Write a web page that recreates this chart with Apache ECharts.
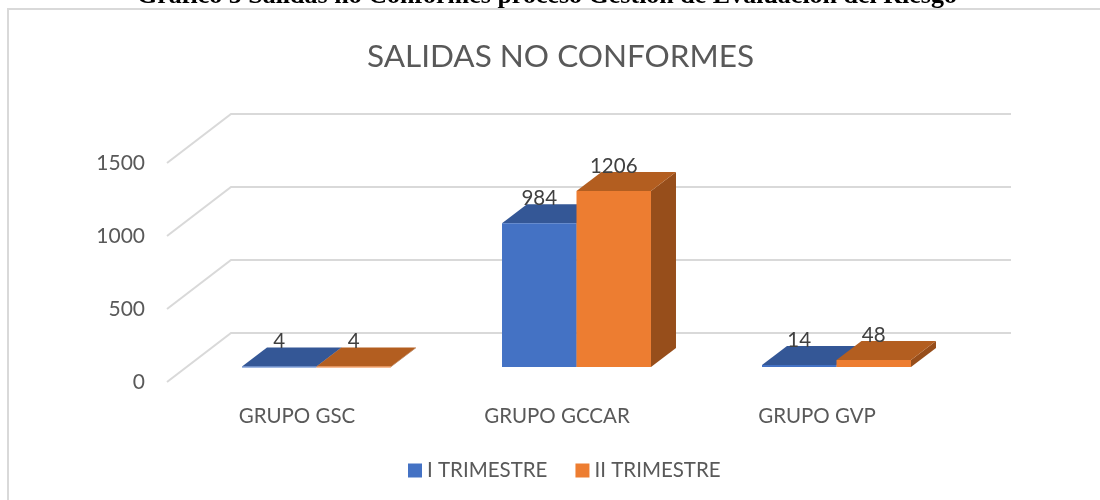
<!DOCTYPE html>
<html><head><meta charset="utf-8">
<style>html,body{margin:0;padding:0;background:#fff}#c{width:1100px;height:500px}</style>
<script src="https://cdn.jsdelivr.net/npm/echarts@6/dist/echarts.min.js"></script>
</head><body><div id="c"></div>
<script>
const categories = ['GRUPO GSC', 'GRUPO GCCAR', 'GRUPO GVP'];
const trimestre1 = [4, 984, 14];
const trimestre2 = [4, 1206, 48];
const seriesNames = ['I TRIMESTRE', 'II TRIMESTRE'];
const yTicks = [0, 500, 1000, 1500];
const headingText = 'Gráfico 5 Salidas no Conformes proceso Gestión de Evaluación del Riesgo';
const chartTitle = 'SALIDAS NO CONFORMES';

const FONT = 'Lato';
const GRID = {left: 167, top: 163, width: 780, height: 219};
const WALL = {dx: 64, dy: -49};
const FLOOR = {dx: 19.5, dy: -15};
const DEPTH = {dx: 25, dy: -19};
const BAR_FRACTION = 0.2865;

function barRenderer(sign, front, top, side) {
  return function (params, api) {
    const v = api.value(1);
    const base = api.coord([api.value(0), 0]);
    const head = api.coord([api.value(0), v]);
    const w = api.size([1, 0])[0] * BAR_FRACTION;
    const x0 = base[0] + FLOOR.dx + (sign < 0 ? -w : 0);
    const x1 = x0 + w;
    const yb = base[1] + FLOOR.dy;
    const yt = head[1] + FLOOR.dy;
    const d = DEPTH;
    return {
      type: 'group',
      children: [
        {type: 'polygon', shape: {points: [[x1, yb], [x1 + d.dx, yb + d.dy], [x1 + d.dx, yt + d.dy], [x1, yt]]}, style: {fill: side}},
        {type: 'polygon', shape: {points: [[x0, yt], [x1, yt], [x1 + d.dx, yt + d.dy], [x0 + d.dx, yt + d.dy]]}, style: {fill: top}},
        {type: 'rect', shape: {x: x0, y: yt, width: w, height: Math.max(yb - yt, 1)}, style: {fill: front}},
        {type: 'text', z2: 50, style: {text: String(v), x: (x0 + x1) / 2, y: yt - 25, align: 'center', verticalAlign: 'middle',
          font: '20.5px ' + FONT, fill: '#404040'}}
      ]
    };
  };
}

function wallRenderer(params, api) {
  const cs = params.coordSys;
  const p = api.coord([0, api.value(0)]);
  const x0 = cs.x, x1 = cs.x + cs.width;
  return {
    type: 'polyline',
    shape: {points: [[x0, p[1]], [x0 + WALL.dx, p[1] + WALL.dy], [x1 + WALL.dx, p[1] + WALL.dy]]},
    style: {stroke: '#d9d9d9', lineWidth: 2, fill: null}
  };
}

const chart = echarts.init(document.getElementById('c'), null, {renderer: 'canvas'});
chart.setOption({
  animation: false,
  backgroundColor: '#fff',
  title: [
    {text: headingText, left: 132, top: -22, textStyle: {fontFamily: 'Liberation Serif', fontWeight: 'bold', fontSize: 26, color: '#000'}},
    {text: chartTitle, left: 362, top: 36, textStyle: {fontFamily: FONT, fontWeight: 'normal', fontSize: 31.5, color: '#595959'}}
  ],
  legend: {
    left: 408, top: 460, padding: 0, icon: 'rect', itemWidth: 14, itemHeight: 14, itemGap: 28,
    data: seriesNames,
    textStyle: {fontFamily: FONT, fontSize: 20.5, color: '#595959'}
  },
  grid: GRID,
  xAxis: {
    type: 'category',
    data: categories,
    axisLine: {show: false}, axisTick: {show: false}, splitLine: {show: false},
    axisLabel: {margin: 24, fontFamily: FONT, fontSize: 20.5, color: '#595959'}
  },
  yAxis: {
    type: 'value', min: 0, max: 1500, interval: 500,
    axisLine: {show: false}, axisTick: {show: false}, splitLine: {show: false},
    axisLabel: {margin: 22, fontFamily: FONT, fontSize: 21, color: '#595959', formatter: v => String(v)}
  },
  series: [
    {type: 'custom', silent: true, z: 1, renderItem: wallRenderer, data: yTicks.map(t => [t]), encode: {y: 0}, clip: false},
    {type: 'custom', name: seriesNames[0], z: 2, itemStyle: {color: '#4472C4'},
      renderItem: barRenderer(-1, '#4472C4', '#345796', '#2F5597'),
      data: categories.map((c, i) => [i, trimestre1[i]]), encode: {x: 0, y: 1}, clip: false},
    {type: 'custom', name: seriesNames[1], z: 3, itemStyle: {color: '#ED7D31'},
      renderItem: barRenderer(1, '#ED7D31', '#B35E20', '#974E1B'),
      data: categories.map((c, i) => [i, trimestre2[i]]), encode: {x: 0, y: 1}, clip: false}
  ],
  graphic: [
    {type: 'polyline', silent: true, z: 0, shape: {points: [[8, 500], [8, 9], [1100, 9]]}, style: {stroke: '#d9d9d9', lineWidth: 2, fill: null}}
  ]
});
</script></body></html>
